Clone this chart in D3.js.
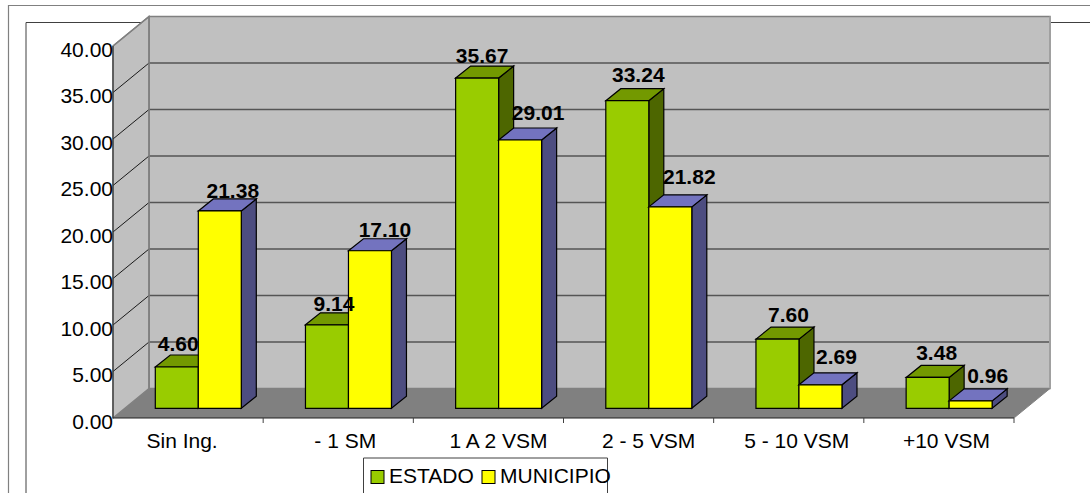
<!DOCTYPE html>
<html><head><meta charset="utf-8">
<script src="https://cdn.jsdelivr.net/npm/d3@7/dist/d3.min.js"></script>
<style>html,body{margin:0;padding:0;background:#fff;overflow:hidden}svg{display:block}text{font-family:"Liberation Sans",Arial,sans-serif;fill:#000}</style>
</head><body><svg id="c" width="1090" height="493"></svg>
<script>
const categories = ["Sin Ing.","- 1 SM","1 A 2 VSM","2 - 5 VSM","5 - 10 VSM","+10 VSM"];
const estado = [4.60,9.14,35.67,33.24,7.60,3.48];
const municipio = [21.38,17.10,29.01,21.82,2.69,0.96];
const yTicks = [0,5,10,15,20,25,30,35,40];
// manual label nudges (layout only)
const catShift = [-6,7,10,10,8,7.5];
const estadoNudgeX = [1.5,7,5,11,11,9];
const estadoNudgeY = [-16,-13,-15,-18,-17,-17];
const muniNudgeX = [13,15,18,19,16,17];
const muniNudgeY = [-13,-13,-20,-23,-20,-18];

const svg = d3.select("#c");
const x = d3.scaleBand().domain(categories).range([113,1014]);
const y = d3.scaleLinear().domain([0,40]).range([418,46]);
const DX=36, DY=-29.5;
const poly=(pts,fill,stroke,sw)=>svg.append("polygon").attr("points",pts.map(p=>p.join(",")).join(" ")).attr("fill",fill).attr("stroke",stroke||"none").attr("stroke-width",sw||0);
const line=(a,b,c,d,stroke,sw)=>svg.append("line").attr("x1",a).attr("y1",b).attr("x2",c).attr("y2",d).attr("stroke",stroke).attr("stroke-width",sw||1);

// frames
svg.append("path").attr("d","M8.5,493V5.5H1090").attr("fill","none").attr("stroke","#808080").attr("stroke-width",1.2);
svg.append("path").attr("d","M26,493V22.5H1090").attr("fill","none").attr("stroke","#404040").attr("stroke-width",1);

const X0=113,X1=1014,Y0=y(0),Y40=y(40);
// walls
poly([[X0+DX,Y40+DY],[X1+DX,Y40+DY],[X1+DX,Y0+DY],[X0+DX,Y0+DY]],"#C0C0C0","#808080",1.5);
poly([[X0,Y40],[X0+DX,Y40+DY],[X0+DX,Y0+DY],[X0,Y0]],"#C0C0C0","#808080",1.5);
poly([[X0,Y0],[X0+DX,Y0+DY],[X1+DX,Y0+DY],[X1,Y0]],"#808080","none");
yTicks.forEach(t=>{
  if(t>0&&t<40){
    line(X0+DX,y(t)+DY,X1+DX,y(t)+DY,"#555555",1.3);
    line(X0,y(t),X0+DX,y(t)+DY,"#1a1a1a",1);
  }
});
line(X0,Y40,X0+DX,Y40+DY,"#808080",1.5);
line(X0+DX,Y40+DY,X0+DX,Y0+DY,"#808080",1.5);
line(X1+DX,Y40+DY,X1+DX,Y0+DY,"#a0a0a0",2);
line(X1,Y0,X1+DX,Y0+DY,"#808080",1);
// axes lines
line(X0,Y40,X0,Y0,"#404040",1.3);
line(X0,Y0,X1,Y0,"#202020",1.2);
categories.forEach(c=>line(x(c)+x.bandwidth(),Y0,x(c)+x.bandwidth(),Y0+5,"#404040",1));

// y labels
svg.append("g").selectAll("text").data(yTicks).join("text")
  .attr("x",113).attr("y",t=>y(t)+10.5).attr("text-anchor","end").attr("font-size",21).text(t=>t.toFixed(2));
// x labels
svg.append("g").selectAll("text").data(categories).join("text")
  .attr("x",(c,i)=>x(c)+x.bandwidth()/2+catShift[i]).attr("y",448).attr("text-anchor","middle").attr("font-size",21).text(c=>c);

// bars
const W=43, BX=15, BY=-12, LIFT=-10, INSET=42.3;
const series=[
 {vals:estado,front:"#99CC00",top:"#739900",side:"#4D6600",off:0,nx:estadoNudgeX,ny:estadoNudgeY},
 {vals:municipio,front:"#FFFF00",top:"#7373BF",side:"#4D4D80",off:W,nx:muniNudgeX,ny:muniNudgeY}];
const barH=v=>y(0)-y(v)-1.5;
function bar(i,s){
  const c=categories[i],v=s.vals[i];
  const l=x(c)+INSET+s.off,r=l+W,b=Y0+LIFT+0.3,t=b-barH(v);
  poly([[r,t],[r+BX,t+BY],[r+BX,b+BY],[r,b]],s.side,"#000",1.2);
  poly([[l,t],[l+BX,t+BY],[r+BX,t+BY],[r,t]],s.top,"#000",1.2);
  poly([[l,t],[r,t],[r,b],[l,b]],s.front,"#000",1.2);
}
categories.forEach((c,i)=>{bar(i,series[0]);bar(i,series[1]);});
series.forEach(s=>categories.forEach((c,i)=>{
  const v=s.vals[i];
  svg.append("text").attr("x",x(c)+INSET+s.off+W/2+s.nx[i]).attr("y",Y0+LIFT-barH(v)+s.ny[i])
    .attr("text-anchor","middle").attr("font-size",21).attr("font-weight","bold").text(v.toFixed(2));
}));

// legend
const legendLabels=["ESTADO","MUNICIPIO"];
svg.append("path").attr("d","M363.5,493V458H607.5V493").attr("fill","#fff").attr("stroke","#404040");
const lx=[371,482], tx=[389,500];
legendLabels.forEach((t,i)=>{
  svg.append("rect").attr("x",lx[i]).attr("y",470.5).attr("width",13).attr("height",13).attr("fill",series[i].front).attr("stroke","#000");
  svg.append("text").attr("x",tx[i]).attr("y",483).attr("font-size",21).text(t);
});
</script></body></html>
